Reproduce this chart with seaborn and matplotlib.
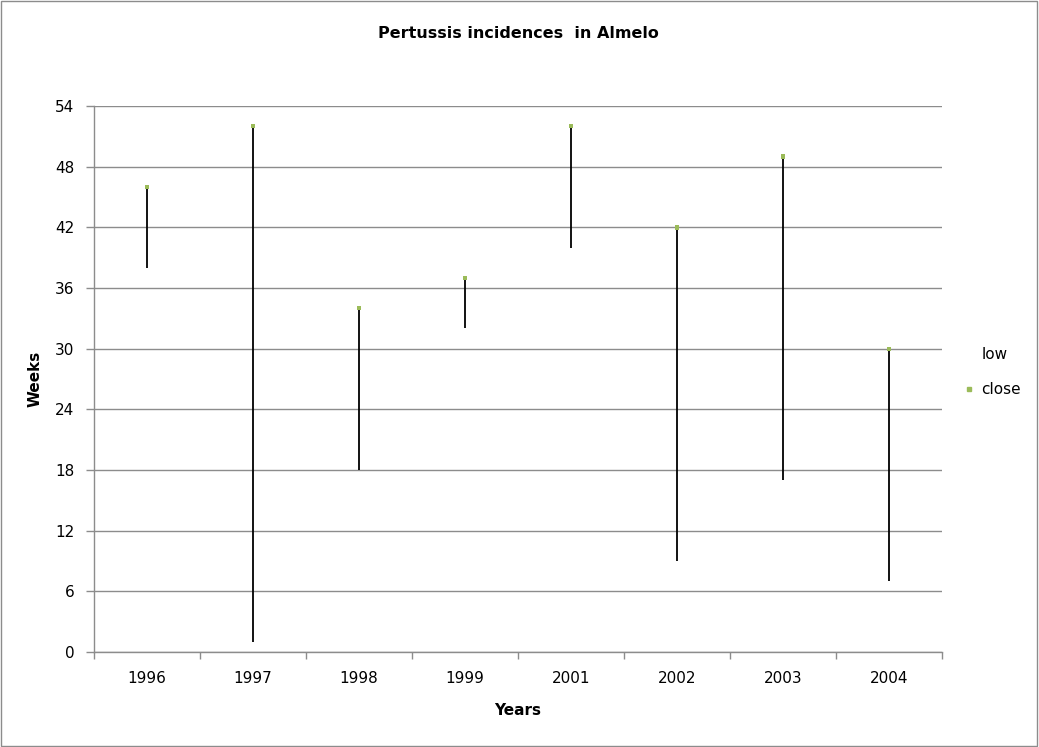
import pandas as pd
import seaborn as sns
import matplotlib.pyplot as plt
from matplotlib.lines import Line2D
from matplotlib.patches import Rectangle

# Dados
anos = ['1996', '1997', '1998', '1999', '2001', '2002', '2003', '2004']
low = [38, 1, 18, 32, 40, 9, 17, 7]
close = [46, 52, 34, 37, 52, 42, 49, 30]

df = pd.DataFrame({'Years': anos, 'low': low, 'close': close})

sns.set_style('white')
plt.rcParams['font.family'] = ['DejaVu Sans']
plt.rcParams['text.color'] = 'black'
plt.rcParams['axes.labelcolor'] = 'black'
plt.rcParams['xtick.color'] = 'black'
plt.rcParams['ytick.color'] = 'black'

fig = plt.figure(figsize=(10.39, 7.47), dpi=100)
ax = fig.add_axes([0.0905, 0.1272, 0.8162, 0.7308])

grid_c = '#8c8c8c'

# linhas verticais low -> close
ax.vlines(df['Years'], df['low'], df['close'], color='black', linewidth=1.3, zorder=3)
sns.scatterplot(data=df, x='Years', y='close', marker='s', s=10, color='#9bbb59',
                edgecolor='none', ax=ax, zorder=4, legend=False)

ax.set_xlim(-0.5, len(anos) - 0.5)
ax.set_ylim(0, 54)
ax.set_yticks(range(0, 55, 6))
ax.yaxis.grid(True, color=grid_c, linewidth=1)
ax.set_axisbelow(True)

for s in ['top', 'right']:
    ax.spines[s].set_visible(False)
for s in ['left', 'bottom']:
    ax.spines[s].set_color(grid_c)
    ax.spines[s].set_linewidth(1)

ax.set_xticks([i + 0.5 for i in range(-1, len(anos))], minor=True)
ax.tick_params(axis='x', which='major', bottom=True, length=0, pad=14, labelsize=11)
ax.tick_params(axis='x', which='minor', bottom=True, length=5, color=grid_c,
               direction='out', width=1)
ax.tick_params(axis='y', left=True, length=6, color=grid_c, direction='out',
               labelsize=11, pad=8, width=1)

ax.set_title('Pertussis incidences  in Almelo', fontsize=11.5, fontweight='bold', pad=49)
ax.set_xlabel('Years', fontsize=11, fontweight='bold', labelpad=12)
ax.set_ylabel('Weeks', fontsize=11, fontweight='bold', labelpad=9)

handles = [Line2D([], [], linestyle='none'),
           Line2D([], [], linestyle='none', marker='s', markersize=3,
                  color='#9bbb59')]
fig.legend(handles, ['low', 'close'], loc='center left', frameon=False,
           bbox_to_anchor=(0.915, 0.502), fontsize=11, handlelength=0.6,
           handletextpad=0.5, labelspacing=1.3)

fig.patches.append(Rectangle((0.001, 0.001), 0.997, 0.997, transform=fig.transFigure,
                             fill=False, edgecolor='#8c8c8c', linewidth=1))

fig.savefig('out.png', dpi=100)
